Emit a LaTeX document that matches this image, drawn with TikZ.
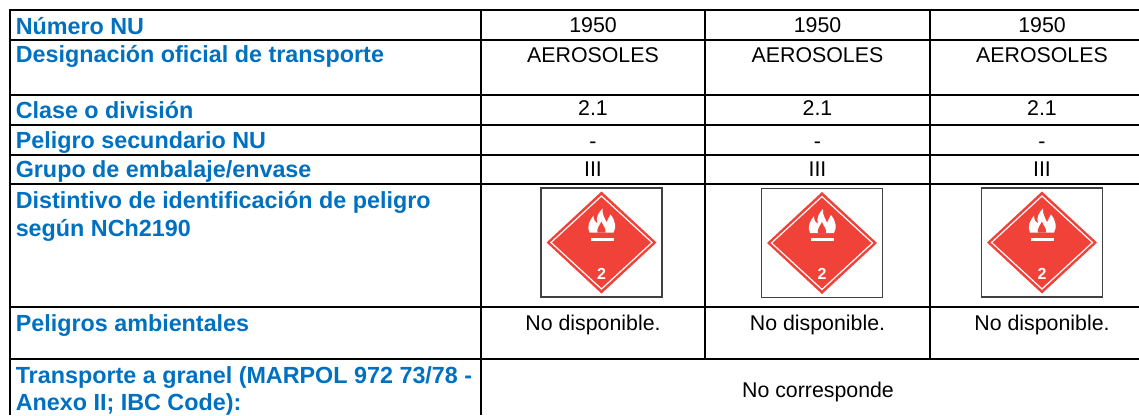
\documentclass[tikz,border=0pt]{standalone}
\usepackage{fontspec}
\setmainfont{Liberation Sans}
\definecolor{labelblue}{RGB}{0,112,192}
\definecolor{placardred}{RGB}{240,66,56}
\tikzset{
  rowlabel/.style={anchor=base west, inner sep=0pt, text=labelblue, font=\fontsize{17.5}{21}\selectfont\bfseries},
  cellvalue/.style={anchor=base, inner sep=0pt, font=\fontsize{16}{19}\selectfont},
  rule/.style={line width=1.5pt},
  placard/.pic={
    \draw[draw=black!75, line width=0.8pt] (-60.5,-54.5) rectangle (60.5,54.5);
    \fill[placardred] (-55,0) -- (0,-51) -- (55,0) -- (0,51) -- cycle;
    \draw[white, line width=0.9pt] (-50.5,0) -- (0,-46.5) -- (50.5,0) -- (0,46.5) -- cycle;
    % flame
    \fill[white] (-12,-10) .. controls (-15,-16) and (-12,-22) .. (-8,-27)
      .. controls (-8,-22) and (-6,-20) .. (-4,-19)
      .. controls (-6,-25) and (-3,-30) .. (1,-34)
      .. controls (0,-28) and (4,-24) .. (5,-20)
      .. controls (6,-23) and (8,-26) .. (9,-28)
      .. controls (14,-22) and (15,-15) .. (12,-10) -- cycle;
    \fill[placardred] (-4,-10) .. controls (-5,-14) and (-2,-17) .. (0,-21)
      .. controls (1,-17) and (5,-14) .. (4,-10) -- cycle;
    \fill[white] (-11,-5) rectangle (12,-2);
    \node[text=white, inner sep=0pt, font=\fontsize{12}{12}\selectfont\bfseries] (-num) at (0,31) {2};
  }
}
\begin{document}
\begin{tikzpicture}[x=0.75pt, y=-0.75pt]
  \useasboundingbox (0,0) rectangle (1139,415);
  % table rules
  \draw[rule] (10,415) -- (10,10) -- (1139,10);
  \draw[rule] (10,40) -- (1139,40);
  \draw[rule] (10,95) -- (1139,95);
  \draw[rule] (10,125) -- (1139,125);
  \draw[rule] (10,155) -- (1139,155);
  \draw[rule] (10,184) -- (1139,184);
  \draw[rule] (10,307) -- (1139,307);
  \draw[rule] (10,359) -- (1139,359);
  \draw[rule] (481,10) -- (481,415);
  \draw[rule] (705,10) -- (705,359);
  \draw[rule] (930,10) -- (930,359);
  % row labels
  \node[rowlabel] (lnum) at (15.5,34) {Número NU};
  \node[rowlabel] (ldes) at (15.5,62) {Designación oficial de transporte};
  \node[rowlabel] (lcla) at (15.5,118) {Clase o división};
  \node[rowlabel] (lsec) at (15.5,148) {Peligro secundario NU};
  \node[rowlabel] (lgru) at (15.5,177) {Grupo de embalaje/envase};
  \node[rowlabel] (ldisa) at (15.5,208) {Distintivo de identificación de peligro};
  \node[rowlabel] (ldisb) at (15.5,236) {según NCh2190};
  \node[rowlabel] (lamb) at (15.5,331) {Peligros ambientales};
  \node[rowlabel] (lgrana) at (15.5,383) {Transporte a granel (MARPOL 972 73/78 -};
  \node[rowlabel] (lgranb) at (15.5,410) {Anexo II; IBC Code):};
  % values
  \node[cellvalue] (numa) at (593,32) {1950};
  \node[cellvalue] (numb) at (817.5,32) {1950};
  \node[cellvalue] (numc) at (1042,32) {1950};
  \node[cellvalue] (desa) at (593,62) {AEROSOLES};
  \node[cellvalue] (desb) at (817.5,62) {AEROSOLES};
  \node[cellvalue] (desc) at (1042,62) {AEROSOLES};
  \node[cellvalue] (claa) at (593,115) {2.1};
  \node[cellvalue] (clab) at (817.5,115) {2.1};
  \node[cellvalue] (clac) at (1042,115) {2.1};
  \node[cellvalue] (seca) at (593,148) {-};
  \node[cellvalue] (secb) at (817.5,148) {-};
  \node[cellvalue] (secc) at (1042,148) {-};
  \node[cellvalue] (grua) at (593,176) {III};
  \node[cellvalue] (grub) at (817.5,176) {III};
  \node[cellvalue] (gruc) at (1042,176) {III};
  \pic (pla) at (601.5,242.5) {placard};
  \pic (plb) at (822,243) {placard};
  \pic (plc) at (1042,242.5) {placard};
  \node[cellvalue] (amba) at (593,330) {No disponible.};
  \node[cellvalue] (ambb) at (817.5,330) {No disponible.};
  \node[cellvalue] (ambc) at (1042,330) {No disponible.};
  \node[cellvalue] (gran) at (818,397) {No corresponde};
\end{tikzpicture}
\end{document}
